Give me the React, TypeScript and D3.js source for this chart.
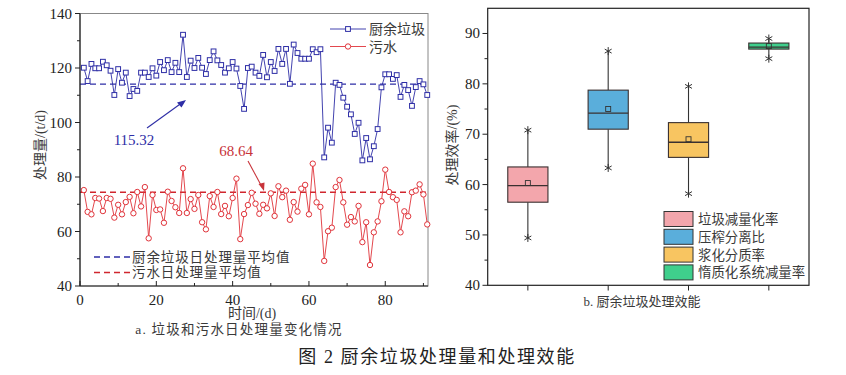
import React from 'react';
import * as d3 from 'd3';

// 左图：厨余垃圾与污水日处理量 (t/d)，第 1~91 天
const kitchenWaste = [
  120.1, 115.2, 121.5, 119.9, 119.9, 122.3, 121, 119, 110.1, 119.6, 114.6, 118.3, 109.7, 112.3, 111.6, 118.3,
  118.3, 116.7, 119.9, 117.2, 122.2, 119.2, 122.9, 118.5, 121.9, 118.5, 132.2, 116.7, 122.7, 120, 123.7, 120.1,
  117.8, 122.9, 126.1, 122.8, 121.1, 118.3, 119.9, 122.2, 119.8, 113.4, 105, 120, 120.5, 118.3, 117.1, 124.8,
  116.6, 122.2, 118.9, 127, 121.5, 127, 114.2, 128.6, 125.5, 123.4, 123.4, 123.4, 126.9, 125.8, 126.9, 87.2,
  98.1, 92.6, 114.6, 113.8, 109.1, 105.8, 103, 95.8, 99.9, 86.1, 94.3, 86.5, 91.3, 97.6, 112.9, 117.7, 117.7,
  116, 117.4, 109.4, 113.8, 111.9, 106.1, 113, 115.2, 114, 110.1,
];
const sewage = [
  75.2, 67.2, 66.3, 72.3, 72.1, 67.5, 72.3, 72, 65.1, 69.8, 66.3, 70.8, 72.7, 66.7, 74.5, 69.2, 76.3, 57.5,
  73.4, 67.9, 68.1, 63.2, 74.6, 71.2, 68.9, 66.8, 83.2, 66.8, 71.9, 68.3, 73.4, 63.4, 60.8, 73, 69, 74.5, 66.4,
  69.4, 65.6, 72.3, 79.4, 57.2, 66.4, 69.7, 74.2, 70.2, 66.5, 69.8, 68.5, 74, 65.7, 76.6, 72.6, 75, 64.3, 70.8,
  67.3, 75.7, 77.1, 66.3, 84.9, 70.7, 69, 49.2, 60.1, 61.4, 76.3, 78.9, 70.7, 62.5, 65.3, 63.7, 69.4, 56.1,
  63.4, 47.7, 59.7, 63.7, 71.1, 82.7, 74.5, 72.6, 71.6, 59.7, 67.4, 65.6, 74.4, 75, 77.3, 73.6, 62.6,
];
// 平均值虚线（按图中位置）与标注文字
const meanLines = [114.1, 74.4];
const meanLabels = ['115.32', '68.64'];
const seriesNames = ['厨余垃圾', '污水'];
const meanNames = ['厨余垃圾日处理量平均值', '污水日处理量平均值'];
const leftYTicks = [40, 60, 80, 100, 120, 140];
const leftXTicks = [0, 20, 40, 60, 80];

// 右图：处理效能箱线图 (%)
const boxNames = ['垃圾减量化率', '压榨分离比', '浆化分质率', '惰质化系统减量率'];
const boxMin = [49.4, 63.3, 58.2, 85.0];
const boxQ1 = [56.5, 71.0, 65.4, 86.9];
const boxMedian = [59.8, 74.2, 68.4, 87.3];
const boxQ3 = [63.5, 78.75, 72.3, 88.1];
const boxMax = [70.8, 86.5, 79.5, 89.0];
const boxMean = [60.3, 75.0, 69.0, 87.5];
const boxColors = ['#F3A6AC', '#5AAEDB', '#F8C561', '#3FCF8C'];
const rightYTicks = [40, 50, 60, 70, 80, 90];

const SERIF = '"Liberation Serif", "DejaVu Serif", "Noto Sans CJK SC", serif';
const CJK = '"Noto Sans CJK SC", "Liberation Serif", sans-serif';
const BLUE = '#2E2EA6';
const RED = '#E0333A';
const TXT = '#3a3a3a';

function star(cx: number, cy: number, r: number) {
  const p = d3.path();
  [90, 30, 150].forEach((a) => {
    const dx = r * Math.cos((a * Math.PI) / 180);
    const dy = r * Math.sin((a * Math.PI) / 180);
    p.moveTo(cx - dx, cy - dy);
    p.lineTo(cx + dx, cy + dy);
  });
  return p.toString();
}

function LeftChart() {
  const x = d3.scaleLinear().domain([0, 91.2]).range([80, 428]);
  const y = d3.scaleLinear().domain([40, 140]).range([286, 13.5]);
  const days = kitchenWaste.map((_, i) => i + 1);
  const line = (vals: number[]) =>
    d3.line<number>().x((_, i) => x(days[i])).y((v) => y(v))(vals) ?? '';

  return (
    <g>
      <rect x={80} y={13.5} width={348} height={272.5} fill="none" stroke="#888" strokeWidth={1} />
      {meanLines.map((m, i) => (
        <line key={i} x1={80} x2={428} y1={y(m)} y2={y(m)} stroke={i === 0 ? BLUE : '#D0262E'}
          strokeWidth={1.4} strokeDasharray="6,4" />
      ))}
      <path d={line(kitchenWaste)} fill="none" stroke={BLUE} strokeWidth={0.9} />
      {kitchenWaste.map((v, i) => (
        <rect key={i} x={x(days[i]) - 2.4} y={y(v) - 2.4} width={4.8} height={4.8} fill="white" stroke={BLUE} strokeWidth={1} />
      ))}
      <path d={line(sewage)} fill="none" stroke={RED} strokeWidth={0.9} />
      {sewage.map((v, i) => (
        <circle key={i} cx={x(days[i])} cy={y(v)} r={2.7} fill="white" stroke={RED} strokeWidth={1} />
      ))}
      {/* axes */}
      <line x1={80} x2={80} y1={13.5} y2={286} stroke="#222" strokeWidth={1.2} />
      <line x1={80} x2={428} y1={286} y2={286} stroke="#222" strokeWidth={1.2} />
      {d3.range(40, 141, 10).map((t) => (
        <line key={t} x1={t % 20 === 0 ? 75 : 77} x2={80} y1={y(t)} y2={y(t)} stroke="#222" />
      ))}
      {leftYTicks.map((t) => (
        <text key={t} x={72} y={y(t) + 5} textAnchor="end" fontSize={15} fontFamily={SERIF} fill="#222">{t}</text>
      ))}
      {d3.range(0, 91, 10).map((t) => (
        <line key={t} x1={x(t)} x2={x(t)} y1={286} y2={t % 20 === 0 ? 281 : 283} stroke="#222" />
      ))}
      {leftXTicks.map((t) => (
        <text key={t} x={x(t)} y={305} textAnchor="middle" fontSize={15} fontFamily={SERIF} fill="#222">{t}</text>
      ))}
      <text x={252} y={318} textAnchor="middle" fontSize={14} fontFamily={SERIF} fill={TXT}>时间/(d)</text>
      <text transform="translate(45,145) rotate(-90)" textAnchor="middle" fontSize={14} fontFamily={SERIF} fill={TXT}>处理量/(t/d)</text>
      <text x={239} y={334} textAnchor="middle" fontSize={13.5} letterSpacing={1.2} fontFamily={SERIF} fill={TXT}>a. 垃圾和污水日处理量变化情况</text>
      {/* annotations */}
      <text x={134} y={145} textAnchor="middle" fontSize={15} fontFamily={SERIF} fill={BLUE}>{meanLabels[0]}</text>
      <line x1={147} y1={128} x2={183} y2={102} stroke={BLUE} strokeWidth={1.1} />
      <path d="M186,100 L177,102.5 L181.5,107.5 Z" fill={BLUE} />
      <text x={236} y={156} textAnchor="middle" fontSize={15} fontFamily={SERIF} fill="#C8333A">{meanLabels[1]}</text>
      <line x1={248} y1={161} x2={262} y2={187} stroke="#C8333A" strokeWidth={1.1} />
      <path d="M264,191 L258.5,184 L264.5,182.5 Z" fill="#C8333A" />
      {/* series legend */}
      {seriesNames.map((n, i) => (
        <g key={n} transform={`translate(0,${29 + i * 17.5})`}>
          <line x1={330} x2={366} y1={0} y2={0} stroke={i === 0 ? BLUE : RED} strokeWidth={0.9} />
          {i === 0 ? (
            <rect x={345.6} y={-2.4} width={4.8} height={4.8} fill="white" stroke={BLUE} />
          ) : (
            <circle cx={348} cy={0} r={2.7} fill="white" stroke={RED} />
          )}
          <text x={369} y={5} fontSize={14} fontFamily={CJK} fill={TXT}>{n}</text>
        </g>
      ))}
      {/* mean legend */}
      {meanNames.map((n, i) => (
        <g key={n} transform={`translate(0,${257 + i * 15.5})`}>
          <line x1={94} x2={131} y1={0} y2={0} stroke={i === 0 ? BLUE : '#D0262E'} strokeWidth={1.4} strokeDasharray="6,4" />
          <text x={132} y={4.8} fontSize={13.5} letterSpacing={0.9} fontFamily={CJK} fill={TXT}>{n}</text>
        </g>
      ))}
    </g>
  );
}

function RightChart() {
  const x = d3.scaleLinear().domain([0.5, 4.5]).range([487.7, 809]);
  const y = d3.scaleLinear().domain([40, 95]).range([285.3, 8.3]);
  const bw = x(1.25) - x(1);

  return (
    <g>
      <rect x={487.7} y={8.3} width={321.3} height={277} fill="none" stroke="#222" strokeWidth={1.2} />
      {boxNames.map((n, i) => {
        const cx = x(i + 1);
        return (
          <g key={n}>
            <line x1={cx} x2={cx} y1={y(boxMax[i])} y2={y(boxQ3[i])} stroke="#333" strokeWidth={1.1} />
            <line x1={cx} x2={cx} y1={y(boxQ1[i])} y2={y(boxMin[i])} stroke="#333" strokeWidth={1.1} />
            <rect x={cx - bw} y={y(boxQ3[i])} width={bw * 2} height={y(boxQ1[i]) - y(boxQ3[i])}
              fill={boxColors[i]} stroke="#3a3030" strokeWidth={1.1} />
            <line x1={cx - bw} x2={cx + bw} y1={y(boxMedian[i])} y2={y(boxMedian[i])} stroke="#3a3030" strokeWidth={1.3} />
            <rect x={cx - 2.5} y={y(boxMean[i]) - 2.5} width={5} height={5} fill="none" stroke="#333" strokeWidth={0.9} />
            <path d={star(cx, y(boxMax[i]), 4)} stroke="#333" strokeWidth={1} />
            <path d={star(cx, y(boxMin[i]), 4)} stroke="#333" strokeWidth={1} />
            <line x1={cx} x2={cx} y1={285.3} y2={290.5} stroke="#222" />
          </g>
        );
      })}
      {d3.range(40, 95, 5).map((t) => (
        <line key={t} x1={t % 10 === 0 ? 482.5 : 484.5} x2={487.7} y1={y(t)} y2={y(t)} stroke="#222" />
      ))}
      {rightYTicks.map((t) => (
        <text key={t} x={480} y={y(t) + 5} textAnchor="end" fontSize={15} fontFamily={SERIF} fill="#222">{t}</text>
      ))}
      <text transform="translate(457,145) rotate(-90)" textAnchor="middle" fontSize={14} fontFamily={SERIF} fill={TXT}>处理效率/(%)</text>
      <text x={642} y={306} textAnchor="middle" fontSize={13} fontFamily={SERIF} fill={TXT}>b. 厨余垃圾处理效能</text>
      {boxNames.map((n, i) => (
        <g key={n} transform={`translate(0,${219 + i * 17.8})`}>
          <rect x={664} y={-7.5} width={29} height={15} fill={boxColors[i]} stroke="#333" strokeWidth={1} />
          <text x={698} y={5} fontSize={13.4} fontFamily={CJK} fill={TXT}>{n}</text>
        </g>
      ))}
    </g>
  );
}

export default function App() {
  return (
    <svg width={846} height={375} style={{ position: 'absolute', left: 0, top: 0, background: 'white' }}>
      <rect width={846} height={375} fill="white" />
      <LeftChart />
      <RightChart />
      <text x={437} y={363} textAnchor="middle" fontSize={18} letterSpacing={1.6} fontFamily={SERIF} fill="#222">图 2 厨余垃圾处理量和处理效能</text>
    </svg>
  );
}
